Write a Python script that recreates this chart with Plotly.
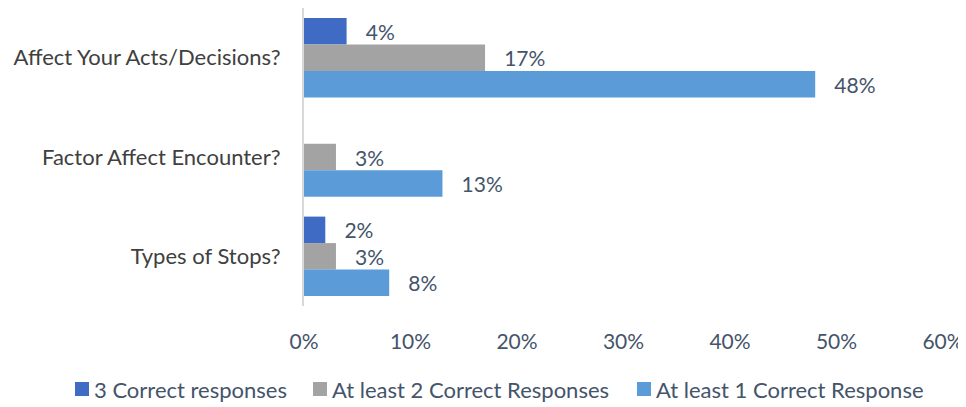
import plotly.graph_objects as go

categories = ["Affect Your Acts/Decisions?", "Factor Affect Encounter?", "Types of Stops?"]
series_names = ["3 Correct responses", "At least 2 Correct Responses", "At least 1 Correct Response"]
three_correct = [0.04, None, 0.02]
two_correct = [0.17, 0.03, 0.03]
one_correct = [0.48, 0.13, 0.08]
tick_vals = [0, 0.1, 0.2, 0.3, 0.4, 0.5, 0.6]

colors = ["#3F6BC4", "#A3A3A3", "#5A9BD8"]
font = "Lato"
txt = "#44546A"

# page body adds an 8px offset, so the figure is a bit smaller than the window
W, H = 958, 395
L, R, T, B = 296, 23, 0, 97
pw, ph = W - L - R, H - T - B

def px(x):
    return (x - L) / pw

def py(y):
    return (T + ph - y) / ph

fig = go.Figure()
for name, vals, c in zip(series_names, [three_correct, two_correct, one_correct], colors):
    fig.add_trace(go.Bar(
        y=categories, x=vals, name=name, orientation="h",
        marker=dict(color=c, line=dict(width=0)),
        text=[f"   {v:.0%}" if v is not None else "" for v in vals],
        textposition="outside", cliponaxis=False, constraintext="none",
        textfont=dict(size=21, color=txt, family=font),
        showlegend=False,
    ))

# legend drawn by hand so it stays on one row
leg_x = [67, 305, 629]
leg_y = 381
for name, c, x0 in zip(series_names, colors, leg_x):
    fig.add_shape(type="rect", xref="paper", yref="paper",
                  x0=px(x0), x1=px(x0 + 14), y0=py(leg_y - 7), y1=py(leg_y + 7),
                  fillcolor=c, line=dict(width=0))
    fig.add_annotation(text=name, xref="paper", yref="paper", x=px(x0 + 18), y=py(leg_y),
                       xanchor="left", yanchor="middle", showarrow=False, borderpad=0,
                       font=dict(size=22, color=txt, family=font))

fig.update_layout(
    barmode="group", bargap=0.2, bargroupgap=0,
    width=W, height=H,
    margin=dict(l=L, r=R, t=T, b=B, autoexpand=False),
    plot_bgcolor="white", paper_bgcolor="white",
    font=dict(family=font, size=21, color=txt),
    showlegend=False,
    xaxis=dict(range=[0, 0.6], tickvals=tick_vals, tickformat=".0%", automargin=False,
               showgrid=False, zeroline=False, showline=False, ticks="",
               ticklabeloverflow="allow",
               ticklabelstandoff=21, tickfont=dict(size=21, color=txt)),
    yaxis=dict(autorange="reversed", showgrid=False, showline=True, automargin=False,
               linecolor="#D9D9D9", linewidth=2, ticks="", ticklabelstandoff=17,
               tickfont=dict(size=22, color="#404040")),
)

fig.write_html("out.html")
